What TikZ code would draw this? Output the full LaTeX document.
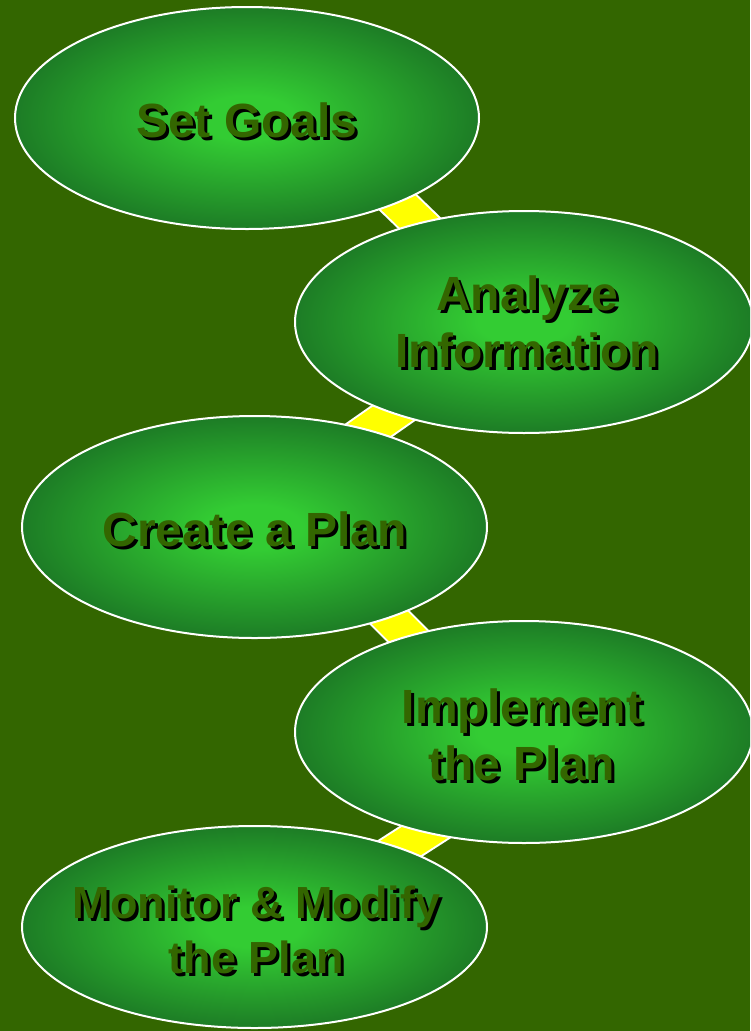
\documentclass[tikz,border=0pt]{standalone}
\usepackage{fontspec}
\setmainfont{Liberation Sans}
\usetikzlibrary{shapes.geometric,calc}
\definecolor{bg}{RGB}{51,102,0}
\definecolor{gin}{RGB}{51,204,51}
\definecolor{gout}{RGB}{20,92,32}
\definecolor{txt}{RGB}{51,102,0}
\definecolor{bary}{RGB}{255,255,0}
\pgfdeclareradialshading{ellgrad}{\pgfpoint{0bp}{0bp}}{color(0bp)=(gin); color(5bp)=(gin); color(33bp)=(gout); color(50bp)=(gout)}
\newcommand\shd[1]{\leavevmode\rlap{\kern3pt\raisebox{-3pt}[0pt][0pt]{\color{black}#1}}#1}
\tikzset{
  stepell/.style={ellipse, shading=ellgrad, draw=white, line width=2pt, inner sep=0pt,
    minimum width=464pt, minimum height=222pt},
  steptext/.style={text=txt, align=center, inner sep=0pt,
    font=\fontsize{48}{57}\selectfont\bfseries},
  barout/.style={draw=white, line width=38pt},
  barin/.style={draw=bary, line width=34pt},
}
\begin{document}
\begin{tikzpicture}[x=1pt,y=-1pt]
\fill[bg] (0,0) rectangle (750,1031);
\clip (0,0) rectangle (750,1031);
% node positions
\coordinate (c1) at (247,118);
\coordinate (c2) at (524,322);
\coordinate (c3) at (254.5,527);
\coordinate (c4) at (524,732);
\coordinate (c5) at (254.5,927);
% connectors (behind ellipses)
\foreach \style in {barout,barin}{
  \draw[\style] ($(c1)+(102,37)$) -- ($(c2)+(-55,-51)$);
  \draw[\style] ($(c2)+(-72,50)$) -- ($(c3)+(57.5,-57)$);
  \draw[\style] ($(c3)+(84.5,40)$) -- ($(c4)+(-65,-45)$);
  \draw[\style] ($(c4)+(-52,70)$) -- ($(c5)+(99.5,-49)$);
}
\node[stepell] (e1) at (c1) {};
\node[stepell, minimum width=458pt] (e2) at (c2) {};
\node[stepell, minimum width=465pt] (e3) at (c3) {};
\node[stepell, minimum width=458pt] (e4) at (c4) {};
\node[stepell, minimum width=465pt, minimum height=202pt] (e5) at (c5) {};
\node[steptext] (t1) at ($(e1.center)+(0,2)$) {\shd{Set Goals}};
\node[steptext] (t2) at ($(e2.center)+(3,0)$) {\shd{Analyze}\\\shd{Information}};
\node[steptext] (t3) at ($(e3.center)+(0,2)$) {\shd{Create a Plan}};
\node[steptext] (t4) at ($(e4.center)+(-2,3)$) {\shd{Implement}\\\shd{the Plan}};
\node[steptext, font=\fontsize{45}{55}\selectfont\bfseries] (t5) at ($(e5.center)+(2,3)$) {\shd{Monitor \& Modify}\\\shd{the Plan}};
\end{tikzpicture}
\end{document}
